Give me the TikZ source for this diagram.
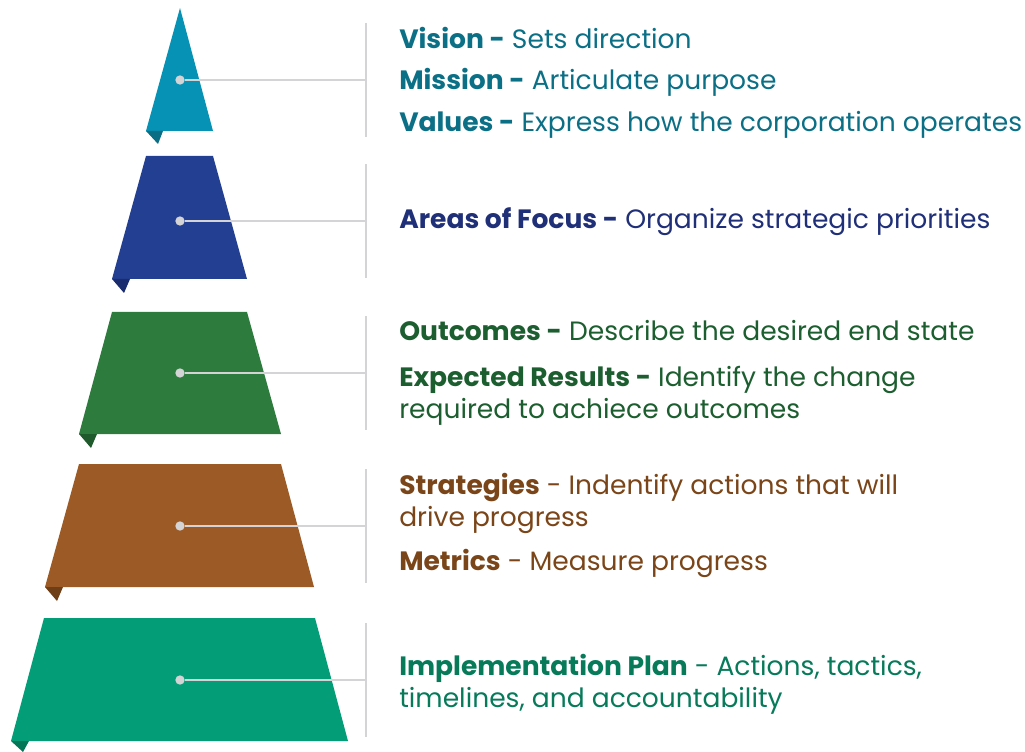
\documentclass[tikz,border=0pt]{standalone}
\usepackage{fontspec}
\setmainfont{Poppins}
\usetikzlibrary{positioning}
\usetikzlibrary{calc}
\definecolor{tealA}{HTML}{0592B5}
\definecolor{tealAdark}{HTML}{0A6E84}
\definecolor{tealAtext}{HTML}{0B6F86}
\definecolor{blueB}{HTML}{233F91}
\definecolor{blueBdark}{HTML}{1A2C6E}
\definecolor{blueBtext}{HTML}{1F2F78}
\definecolor{greenC}{HTML}{2E7B3E}
\definecolor{greenCdark}{HTML}{1E5A2B}
\definecolor{greenCtext}{HTML}{1C5E2F}
\definecolor{brownD}{HTML}{9C5B26}
\definecolor{brownDdark}{HTML}{6E3F17}
\definecolor{brownDtext}{HTML}{7A4518}
\definecolor{greenE}{HTML}{039E77}
\definecolor{greenEdark}{HTML}{027657}
\definecolor{greenEtext}{HTML}{077A5A}
\definecolor{dotgray}{HTML}{D4D4D6}

\begin{document}
\begin{tikzpicture}[x=0.75pt,y=-0.75pt,
  marker/.style={circle,fill=dotgray,inner sep=0pt,minimum size=7pt},
  link/.style={draw=dotgray,line width=1.2pt},
  bar/.style={draw=dotgray,line width=1.8pt},
  desc/.style={anchor=base west,inner sep=0pt,align=left,
    font=\fontsize{19.9}{23.5}\selectfont}
]
		\useasboundingbox (0,0) rectangle (1025,752);
		% Tiers
		\fill[tealA] (146,131) -- (180,8) -- (213,131) -- cycle;
		\fill[tealAdark] (146,131) -- (163,131) -- (158,144) -- cycle;
		\fill[blueB] (112,279) -- (146,156) -- (213,156) -- (247,279) -- cycle;
		\fill[blueBdark] (112,279) -- (130,279) -- (124,293) -- cycle;
		\fill[greenC] (79,434) -- (112,312) -- (247,312) -- (281,434) -- cycle;
		\fill[greenCdark] (79,434) -- (97,434) -- (91,448) -- cycle;
		\fill[brownD] (45,587) -- (79,464) -- (281,464) -- (314,587) -- cycle;
		\fill[brownDdark] (45,587) -- (63,587) -- (57,601) -- cycle;
		\fill[greenE] (11,741) -- (44,618) -- (315,618) -- (348,741) -- cycle;
		\fill[greenEdark] (11,741) -- (29,741) -- (23,752) -- cycle;
		% Markers
		\node[marker] (vision) at (180,80) {};
		\node[marker] (focus) at (180,221) {};
		\node[marker] (outcomes) at (180,373) {};
		\node[marker] (strategies) at (180,526) {};
		\node[marker] (plan) at (180,680) {};
		% Brackets
		\coordinate (visionbar) at (366,80);
		\coordinate (focusbar) at (366,221);
		\coordinate (outcomesbar) at (366,373);
		\coordinate (strategiesbar) at (366,526);
		\coordinate (planbar) at (366,680);
		\draw[bar] (366,23) -- (366,137);
		\draw[bar] (366,164) -- (366,278);
		\draw[bar] (366,316) -- (366,430);
		\draw[bar] (366,469) -- (366,583);
		\draw[bar] (366,623) -- (366,737);
		% Connectors
		\draw[link] (vision) -- (visionbar);
		\draw[link] (focus) -- (focusbar);
		\draw[link] (outcomes) -- (outcomesbar);
		\draw[link] (strategies) -- (strategiesbar);
		\draw[link] (plan) -- (planbar);
		% Labels (multi-line labels sit on their last baseline)
		\node[desc, text=tealAtext] (visiontxt) at (399,49) {\textbf{Vision -} Sets direction};
		\node[desc, text=tealAtext] (missiontxt) at (399,90) {\textbf{Mission -} Articulate purpose};
		\node[desc, text=tealAtext] (valuestxt) at (399,132) {\textbf{Values -} Express how the corporation operates};
		\node[desc, text=blueBtext] (focustxt) at (399,229) {\textbf{Areas of Focus -} Organize strategic priorities};
		\node[desc, text=greenCtext] (outcomestxt) at (399,341) {\textbf{Outcomes -} Describe the desired end state};
		\node[desc, text=greenCtext] (resultstxt) at (399,418) {\textbf{Expected Results -} Identify the change\\required to achiece outcomes};
		\node[desc, text=brownDtext] (strategiestxt) at (399,526) {\textbf{Strategies} - Indentify actions that will\\drive progress};
		\node[desc, text=brownDtext] (metricstxt) at (399,570) {\textbf{Metrics} - Measure progress};
		\node[desc, text=greenEtext] (plantxt) at (399,707) {\textbf{Implementation Plan} - Actions, tactics,\\timelines, and accountability};
	\end{tikzpicture}
\end{document}
